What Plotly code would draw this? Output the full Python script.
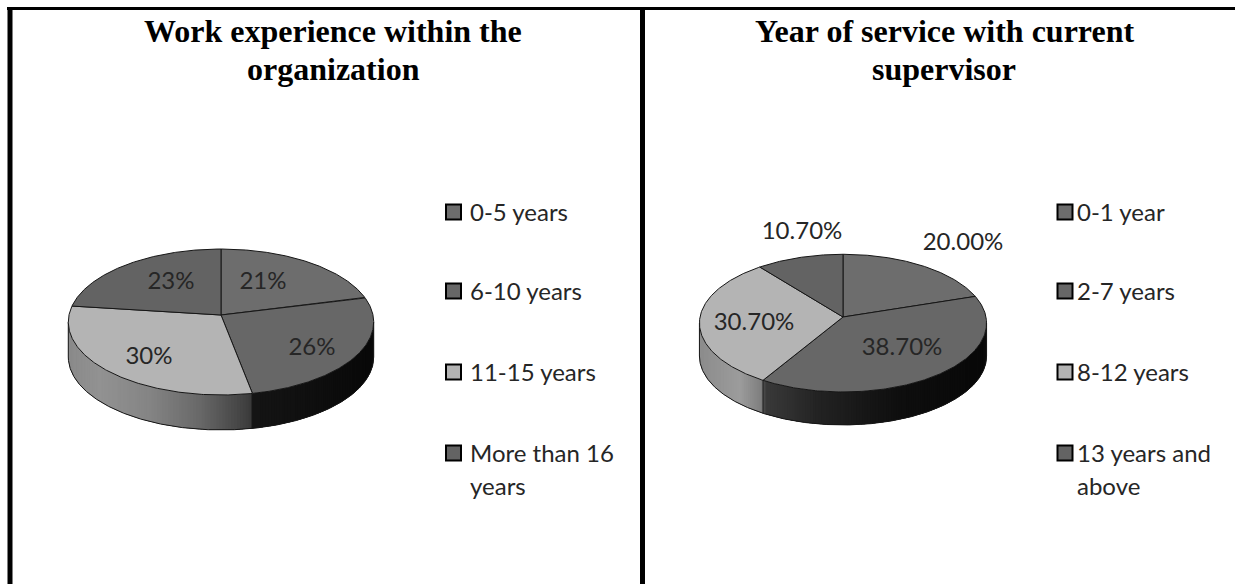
import numpy as np
import plotly.graph_objects as go

left_title = ["Work experience within the", "organization"]
right_title = ["Year of service with current", "supervisor"]
left_cats = ["0-5 years", "6-10 years", "11-15 years", "More than 16<br>years"]
right_cats = ["0-1 year", "2-7 years", "8-12 years", "13 years and<br>above"]
left_vals = [21, 26, 30, 23]
right_vals = [20.0, 38.7, 30.7, 10.7]
left_text = ["21%", "26%", "30%", "23%"]
right_text = ["20.00%", "38.70%", "30.70%", "10.70%"]
top_colors = ["#6d6d6d", "#676767", "#b4b4b4", "#636363"]
TEXT = "#262626"
EDGE = "#161616"

fig = go.Figure()


def shade(stops, x):
    xs, gs = zip(*stops)
    g = int(round(np.interp(x, xs, gs)))
    return f"rgb({g},{g},{g})"


def edge_trace(x, y, width=1):
    fig.add_trace(go.Scatter(x=x, y=y, mode="lines", line=dict(color=EDGE, width=width),
                             hoverinfo="skip", showlegend=False))


def pie(vals, labels, label_pos, cx, cy, rx, ry, k, depth, stops):
    vals = np.array(vals, float)
    fr = np.concatenate([[0], np.cumsum(vals) / vals.sum()])

    def proj(t):
        th = 2 * np.pi * t
        u, v = np.sin(th), -np.cos(th)
        d = 1 - k * v
        return cx + rx * u / d, cy + ry * v / d

    # side wall: the front part of the rim, drawn as overlapping shaded strips
    ts = np.linspace(0, 1, 1441)
    X, Y = proj(ts)
    vis = np.where(np.diff(X) < 0)[0]
    first, last = vis[0], vis[-1] + 1
    step = 4
    for i in range(first, last, step):
        j = min(i + step + 6, last)
        xa, ya = X[i:j + 1], Y[i:j + 1]
        g = shade(stops, X[i:min(i + step, last) + 1].mean())
        fig.add_trace(go.Scatter(
            x=np.concatenate([xa, xa[::-1]]),
            y=np.concatenate([ya, ya[::-1] + depth]),
            mode="lines", fill="toself", fillcolor=g,
            line=dict(color=g, width=0),
            hoverinfo="skip", showlegend=False))
    # outline of the wall
    xv, yv = X[first:last + 1], Y[first:last + 1]
    edge_trace(xv, yv + depth)
    for xe, ye in ((xv[0], yv[0]), (xv[-1], yv[-1])):
        edge_trace([xe, xe], [ye, ye + depth])
    for t in fr[1:-1]:
        if ts[first] < t < ts[last]:
            xe, ye = proj(t)
            edge_trace([xe, xe], [ye, ye + depth])
    # top slices
    for a, b, c in zip(fr[:-1], fr[1:], top_colors):
        t = np.linspace(a, b, 200)
        xs, ys = proj(t)
        fig.add_trace(go.Scatter(
            x=np.concatenate([[cx], xs, [cx]]), y=np.concatenate([[cy], ys, [cy]]),
            mode="lines", fill="toself", fillcolor=c,
            line=dict(color=EDGE, width=1), hoverinfo="skip", showlegend=False))
    # data labels
    fig.add_trace(go.Scatter(
        x=[p[0] for p in label_pos], y=[p[1] for p in label_pos], mode="text", text=labels,
        textposition="middle center", textfont=dict(family="Lato", size=24, color=TEXT),
        hoverinfo="skip", showlegend=False))


left_label_pos = [(263, 283), (312, 349), (149, 358), (171, 283)]
right_label_pos = [(963, 244), (902, 349), (754, 324), (802, 233)]
pie(left_vals, left_text, left_label_pos, 221, 315, 152, 72.3, 0.096, 35,
    [(68, 138), (100, 146), (150, 132), (200, 104), (250, 60), (253, 20), (300, 16), (375, 8)])
pie(right_vals, right_text, right_label_pos, 843, 317, 143, 68.3, 0.089, 33,
    [(700, 140), (740, 156), (762, 125), (765, 58), (820, 34), (900, 14), (987, 8)])

# legends
legend_y = [212, 291, 372, 453]
for sx, tx, cats in ((453.5, 470, left_cats), (1065, 1077, right_cats)):
    fig.add_trace(go.Scatter(
        x=[sx] * 4, y=legend_y, mode="markers",
        marker=dict(symbol="square", size=15, color=top_colors,
                    line=dict(color="#000", width=2)),
        hoverinfo="skip", showlegend=False))
    for c, y in zip(cats, legend_y):
        for n, line in enumerate(c.split("<br>")):
            fig.add_annotation(x=tx, y=y - 1 + n * 33, xref="x", yref="y", text=line, showarrow=False,
                               xanchor="left", yanchor="middle", align="left", xshift=-2,
                               font=dict(family="Lato", size=24, color=TEXT))

# titles
for x, lines in ((333, left_title), (944, right_title)):
    for n, line in enumerate(lines):
        fig.add_annotation(x=x, y=31 + n * 38, xref="x", yref="y", text=f"<b>{line}</b>", showarrow=False,
                           xanchor="center", yanchor="middle", align="center",
                           font=dict(family="Liberation Serif", size=32, color="#000"))

# frame
fig.add_shape(x0=7, x1=1235, y0=8.5, y1=8.5, xref="x", yref="y", type="line", line=dict(color="#000", width=3))
fig.add_shape(x0=10, x1=10, y0=7, y1=584, xref="x", yref="y", type="line", line=dict(color="#000", width=5))
fig.add_shape(x0=642.5, x1=642.5, y0=7, y1=584, xref="x", yref="y", type="line", line=dict(color="#000", width=5))

fig.update_layout(
    width=1235, height=584, margin=dict(l=0, r=0, t=0, b=0), showlegend=False,
    paper_bgcolor="white", plot_bgcolor="white",
    xaxis=dict(range=[0, 1235], visible=False, fixedrange=True),
    yaxis=dict(range=[584, 0], visible=False, fixedrange=True),
)
fig.write_html("out.html", config={"displayModeBar": False},
               post_script="document.body.style.margin='0';document.body.style.overflow='hidden';")
